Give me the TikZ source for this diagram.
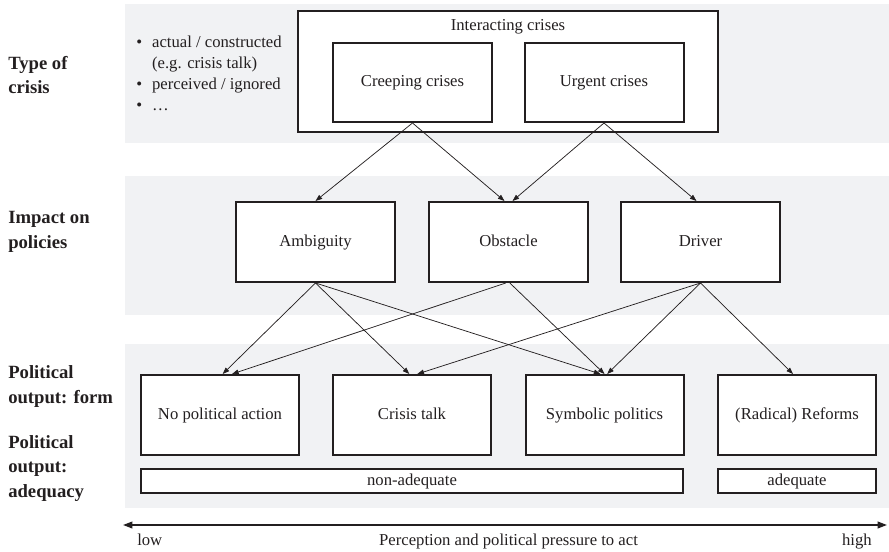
\documentclass[tikz,border=0pt]{standalone}
\usepackage{fontspec}
\setmainfont{Liberation Serif}
\usetikzlibrary{arrows.meta}
\definecolor{band}{RGB}{241,242,244}
\definecolor{ink}{RGB}{35,31,32}
\tikzset{
  x=0.75pt, y=-0.75pt,
  every node/.style={text=ink, inner sep=0pt},
  box/.style={draw=ink, line width=1.5pt, fill=white, font=\fontsize{12.5}{15}\selectfont,
    text height=8.8pt, text depth=2.6pt,
    minimum width={159*0.75pt}, minimum height={80*0.75pt}},
  barbox/.style={draw=ink, line width=1.5pt, fill=white, font=\fontsize{12.5}{15}\selectfont,
    text height=8.8pt, text depth=2.6pt, minimum height={24*0.75pt}},
  rowlabel/.style={anchor=west, align=left, font=\bfseries\fontsize{14}{18.5}\selectfont},
  plain/.style={font=\fontsize{12.5}{15}\selectfont},
  link/.style={draw=ink, line width=0.55pt, -{Triangle[length=5pt,width=3.6pt]}},
}
\begin{document}
\begin{tikzpicture}
\useasboundingbox (0,0) rectangle (889,552);

% background bands
\fill[band] (125,4) rectangle (889,143);
\fill[band] (125,176) rectangle (889,315);
\fill[band] (125,344) rectangle (889,508);

% row labels
\node[rowlabel] (lab1) at (8,75) {Type of\\crisis};
\node[rowlabel] (lab2) at (8,232) {Impact on\\policies};
\node[rowlabel] (lab3) at (8,386.5) {Political\\output: form};
\node[rowlabel] (lab4) at (8,468.5) {Political\\output:\\adequacy};

% bullet list
\node[plain, anchor=base west] (bullets) at (136,48) {%
  \renewcommand{\arraystretch}{1.05}%
  \begin{tabular}[t]{@{}l@{\hspace{7.5pt}}l@{}}
  • & actual / constructed\\
    & (e.g. crisis talk)\\
  • & perceived / ignored\\
  • & …
  \end{tabular}};

% crisis types
\node[box, minimum width={420*0.75pt}, minimum height={121*0.75pt}] (inter) at (508,71.5) {};
\node[plain] (intertitle) at (508,27) {Interacting crises};
\node[box, minimum height={79*0.75pt}] (creep) at (412.5,82.5) {Creeping crises};
\node[box, minimum height={79*0.75pt}] (urgent) at (604,82.5) {Urgent crises};

% impact on policies
\node[box] (amb) at (315.5,242) {Ambiguity};
\node[box] (obs) at (508.5,242) {Obstacle};
\node[box] (drv) at (700.5,242) {Driver};

% political output: form
\node[box, minimum width={158*0.75pt}] (noact) at (220,415) {No political action};
\node[box, minimum width={158*0.75pt}] (talk) at (412,415) {Crisis talk};
\node[box, minimum width={158*0.75pt}] (symb) at (604.5,415) {Symbolic politics};
\node[box, minimum width={158*0.75pt}] (reform) at (797,415) {(Radical) Reforms};

% political output: adequacy
\node[barbox, minimum width={542*0.75pt}] (nonadq) at (412,481) {non-adequate};
\node[barbox, minimum width={158*0.75pt}] (adq) at (797,481) {adequate};

% links between the layers
\draw[link] (creep.south) -- (amb.north);
\draw[link] (creep.south) -- ([xshift=-3pt]obs.north);
\draw[link] (urgent.south) -- ([xshift=3pt]obs.north);
\draw[link] (urgent.south) -- ([xshift=-3pt]drv.north);

\draw[link] (amb.south) -- ([xshift=2pt]noact.north);
\draw[link] (amb.south) -- ([xshift=-2pt]talk.north);
\draw[link] (amb.south) -- ([xshift=-3pt]symb.north);
\draw[link] ([xshift=-2pt]obs.south) -- ([xshift=9pt]noact.north);
\draw[link] ([xshift=1pt]obs.south) -- ([xshift=0pt]symb.north);
\draw[link] (drv.south) -- ([xshift=4pt]talk.north);
\draw[link] (drv.south) -- ([xshift=2pt]symb.north);
\draw[link] (drv.south) -- ([xshift=-3pt]reform.north);

% perception axis
\coordinate (axl) at (123,525);
\coordinate (axr) at (887,525);
\draw[draw=ink, line width=1.2pt, {Triangle[length=7pt,width=5pt]}-{Triangle[length=7pt,width=5pt]}] (axl) -- (axr);
\node[plain, anchor=base west] (low) at (137,545) {low};
\node[plain, anchor=base] (axtitle) at (508.5,545) {Perception and political pressure to act};
\node[plain, anchor=base east] (high) at (872,545) {high};
\end{tikzpicture}
\end{document}
